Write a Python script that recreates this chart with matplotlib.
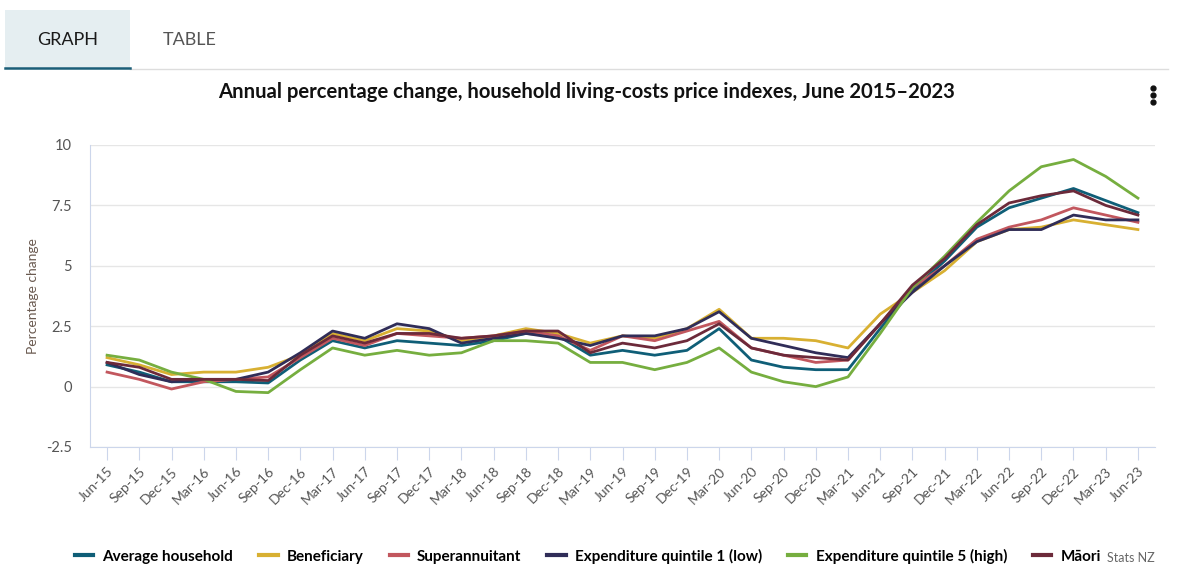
import numpy as np
import matplotlib
matplotlib.use("Agg")
import matplotlib.pyplot as plt
from matplotlib.lines import Line2D
from matplotlib.patches import Rectangle

plt.rcParams['font.family'] = ['Lato', 'DejaVu Sans']

# quarters
quarters = ['Jun-15', 'Sep-15', 'Dec-15', 'Mar-16', 'Jun-16', 'Sep-16', 'Dec-16', 'Mar-17',
            'Jun-17', 'Sep-17', 'Dec-17', 'Mar-18', 'Jun-18', 'Sep-18', 'Dec-18', 'Mar-19',
            'Jun-19', 'Sep-19', 'Dec-19', 'Mar-20', 'Jun-20', 'Sep-20', 'Dec-20', 'Mar-21',
            'Jun-21', 'Sep-21', 'Dec-21', 'Mar-22', 'Jun-22', 'Sep-22', 'Dec-22', 'Mar-23', 'Jun-23']

average_household = [0.9, 0.6, 0.2, 0.2, 0.2, 0.15, 1.1, 1.9, 1.6, 1.9, 1.8, 1.7, 1.9, 2.2, 2.1, 1.3,
                     1.5, 1.3, 1.5, 2.4, 1.1, 0.8, 0.7, 0.7, 2.4, 4.0, 5.2, 6.6, 7.4, 7.8, 8.2, 7.7, 7.2]
beneficiary = [1.2, 0.9, 0.5, 0.6, 0.6, 0.8, 1.3, 2.2, 1.9, 2.4, 2.3, 1.9, 2.1, 2.4, 2.2, 1.8,
               2.1, 2.0, 2.4, 3.2, 2.0, 2.0, 1.9, 1.6, 3.0, 3.9, 4.8, 6.0, 6.5, 6.6, 6.9, 6.7, 6.5]
superannuitant = [0.6, 0.3, -0.1, 0.2, 0.3, 0.4, 1.2, 2.0, 1.7, 2.2, 2.1, 2.0, 2.1, 2.3, 2.1, 1.5,
                  2.1, 1.9, 2.3, 2.7, 1.6, 1.3, 1.0, 1.1, 2.6, 4.1, 5.0, 6.1, 6.6, 6.9, 7.4, 7.1, 6.8]
quintile1 = [1.0, 0.5, 0.2, 0.3, 0.3, 0.6, 1.4, 2.3, 2.0, 2.6, 2.4, 1.8, 2.0, 2.2, 2.0, 1.7,
             2.1, 2.1, 2.4, 3.1, 2.0, 1.7, 1.4, 1.2, 2.6, 3.9, 5.0, 6.0, 6.5, 6.5, 7.1, 6.9, 6.9]
quintile5 = [1.3, 1.1, 0.6, 0.3, -0.2, -0.25, 0.7, 1.6, 1.3, 1.5, 1.3, 1.4, 1.9, 1.9, 1.8, 1.0,
             1.0, 0.7, 1.0, 1.6, 0.6, 0.2, 0.0, 0.4, 2.2, 4.1, 5.4, 6.8, 8.1, 9.1, 9.4, 8.7, 7.8]
maori = [1.0, 0.8, 0.3, 0.3, 0.3, 0.25, 1.3, 2.1, 1.8, 2.2, 2.2, 2.0, 2.1, 2.3, 2.3, 1.4,
         1.8, 1.6, 1.9, 2.6, 1.6, 1.3, 1.2, 1.1, 2.6, 4.2, 5.3, 6.7, 7.6, 7.9, 8.1, 7.5, 7.1]

series_names = ['Average household', 'Beneficiary', 'Superannuitant',
                'Expenditure quintile 1 (low)', 'Expenditure quintile 5 (high)', 'Māori']
colors = ['#0f5e77', '#d8b032', '#c2575e', '#302d58', '#76ae3f', '#6c2a3a']
y_ticks = [-2.5, 0, 2.5, 5, 7.5, 10]
y_labels = ['-2.5', '0', '2.5', '5', '7.5', '10']

W, H = 1178, 581
fig = plt.figure(figsize=(W / 100, H / 100), dpi=100)

# tabs at the top
fig.add_artist(Rectangle((5 / W, 1 - 68 / H), 125 / W, 58 / H, transform=fig.transFigure,
                         facecolor='#e5eef1', edgecolor='none'))
fig.add_artist(Line2D([130 / W, 1168 / W], [1 - 69 / H, 1 - 69 / H], transform=fig.transFigure,
                      color='#dddddd', lw=1))
fig.add_artist(Line2D([5 / W, 130 / W], [1 - 67.5 / H, 1 - 67.5 / H], transform=fig.transFigure,
                      color='#1b5e78', lw=1.8))
fig.text(68 / W, 1 - 40 / H, 'GRAPH', ha='center', va='center', fontsize=13, color='#1a1a1a')
fig.text(190 / W, 1 - 40 / H, 'TABLE', ha='center', va='center', fontsize=13, color='#555555')

fig.text(587 / W, 1 - 92 / H, 'Annual percentage change, household living-costs price indexes, June 2015\u20132023',
         ha='center', va='center', fontsize=14.6, fontweight='bold', color='#111111')

# menu dots
for yy in (88, 95, 102):
    fig.add_artist(Line2D([1153 / W], [1 - yy / H], transform=fig.transFigure, marker='o',
                          markersize=3.5, color='#111111', lw=0))

ax = fig.add_axes([90 / W, 1 - 447 / H, (1155 - 90) / W, (447 - 145) / H])
x = np.arange(len(quarters))
all_series = [average_household, beneficiary, superannuitant, quintile1, quintile5, maori]
for vals, name, c in zip(all_series, series_names, colors):
    ax.plot(x, vals, color=c, lw=2, label=name)

ax.set_xlim(-0.53, len(quarters) - 0.47)
ax.set_ylim(-2.5, 10)
ax.set_yticks(y_ticks)
ax.set_yticklabels(y_labels)
ax.set_xticks(x)
ax.set_xticklabels(quarters, rotation=45, ha='right', rotation_mode='anchor')
ax.grid(axis='y', color='#e6e6e6', lw=1)
ax.set_axisbelow(True)
for s in ('top', 'right'):
    ax.spines[s].set_visible(False)
ax.spines['bottom'].set_color('#ccd6eb')
ax.spines['left'].set_color('#ccd6eb')
ax.tick_params(axis='y', length=0, pad=13, labelsize=10.5, labelcolor='#555555')
ax.tick_params(axis='x', length=9, color='#ccd6eb', pad=4, labelsize=10, labelcolor='#555555')
ax.set_ylabel('Percentage change', fontsize=10, color='#6a5a50', labelpad=5)

handles = [Line2D([], [], color=c, lw=3) for c in colors]
fig.legend(handles, series_names, loc='center', bbox_to_anchor=(588 / W, 1 - 556 / H), ncol=6,
           frameon=False, handlelength=1.2, handletextpad=0.6, columnspacing=1.7,
           prop={'weight': 'bold', 'size': 11})
fig.text(1155 / W, 1 - 558 / H, 'Stats NZ', ha='right', va='center', fontsize=9, color='#666666')

fig.savefig('out.png', dpi=100)
